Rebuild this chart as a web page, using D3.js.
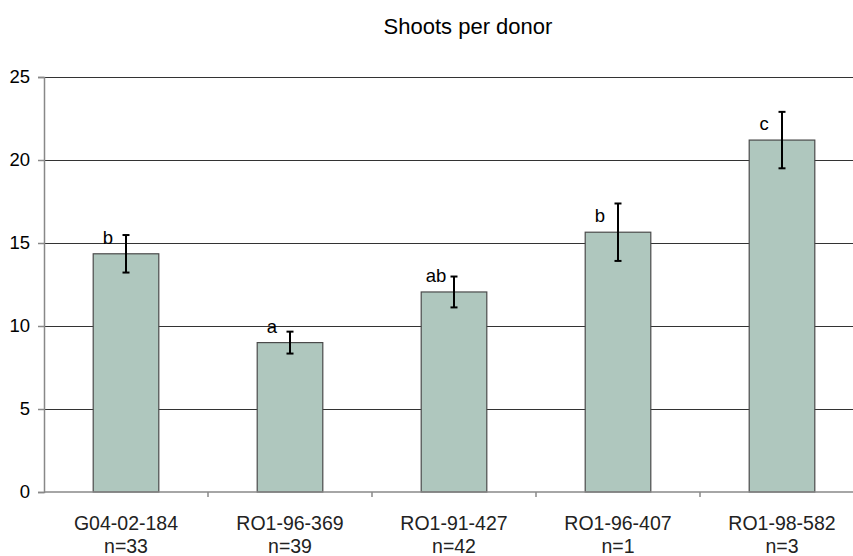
<!DOCTYPE html>
<html>
<head>
<meta charset="utf-8">
<script src="https://cdn.jsdelivr.net/npm/d3@7/dist/d3.min.js"></script>
<style>
  html, body { margin: 0; padding: 0; background: #fff; }
  svg { display: block; font-family: "Liberation Sans", Arial, sans-serif; }
</style>
</head>
<body>
<svg id="chart" width="853" height="556"></svg>
<script>
// Shoots per donor: mean with standard error and significance letters
const donors = ["G04-02-184", "RO1-96-369", "RO1-91-427", "RO1-96-407", "RO1-98-582"];
const sampleSizes = ["n=33", "n=39", "n=42", "n=1", "n=3"];
const meanShoots = [14.35, 9.0, 12.05, 15.65, 21.2];
const stdErrors = [1.13, 0.66, 0.93, 1.73, 1.7];
const groupLetters = ["b", "a", "ab", "b", "c"];
const yTicks = [0, 5, 10, 15, 20, 25];

const svg = d3.select("#chart");
const margin = { left: 44, top: 77, bottom: 492, right: 864 };

const x = d3.scaleBand()
  .domain(donors)
  .range([margin.left, margin.right])
  .paddingInner(0.6)
  .paddingOuter(0.3);

const xCat = d3.scaleBand()
  .domain(donors)
  .range([margin.left, margin.right]);

const y = d3.scaleLinear()
  .domain([0, 25])
  .range([margin.bottom, margin.top]);

// title
svg.append("text")
  .attr("x", 468)
  .attr("y", 34)
  .attr("text-anchor", "middle")
  .attr("font-size", 22)
  .attr("fill", "#000")
  .text("Shoots per donor");

// horizontal gridlines
svg.append("g")
  .selectAll("line")
  .data(yTicks.filter(d => d > 0))
  .join("line")
  .attr("x1", margin.left)
  .attr("x2", margin.right)
  .attr("y1", d => Math.round(y(d)) + 0.5)
  .attr("y2", d => Math.round(y(d)) + 0.5)
  .attr("stroke", "#333")
  .attr("stroke-width", 1);

// y axis
const yAxis = svg.append("g")
  .attr("transform", `translate(${margin.left},0)`)
  .call(d3.axisLeft(y).tickValues(yTicks).tickSize(6).tickPadding(8).tickFormat(d3.format("d")));
yAxis.select(".domain").attr("stroke", "#888").attr("stroke-width", 1.5);
yAxis.selectAll(".tick line").attr("stroke", "#888").attr("stroke-width", 1.5);
yAxis.selectAll(".tick text")
  .attr("font-family", "Liberation Sans, Arial, sans-serif")
  .attr("font-size", 18.5)
  .attr("fill", "#000");

// bars
svg.append("g")
  .selectAll("rect")
  .data(donors)
  .join("rect")
  .attr("x", d => x(d))
  .attr("y", (d, i) => y(meanShoots[i]))
  .attr("width", x.bandwidth())
  .attr("height", (d, i) => y(0) - y(meanShoots[i]))
  .attr("fill", "#AFC7BE")
  .attr("stroke", "#4a4a4a")
  .attr("stroke-width", 1.2);

// x axis with category boundary ticks
const xAxisG = svg.append("g");
xAxisG.append("line")
  .attr("x1", margin.left)
  .attr("x2", margin.right)
  .attr("y1", margin.bottom)
  .attr("y2", margin.bottom)
  .attr("stroke", "#888")
  .attr("stroke-width", 1.5);
xAxisG.selectAll("line.cat")
  .data(donors.slice(1))
  .join("line")
  .attr("class", "cat")
  .attr("x1", d => xCat(d))
  .attr("x2", d => xCat(d))
  .attr("y1", margin.bottom)
  .attr("y2", margin.bottom + 5)
  .attr("stroke", "#888")
  .attr("stroke-width", 1.5);

// category labels
const labels = svg.append("g")
  .selectAll("text")
  .data(donors)
  .join("text")
  .attr("text-anchor", "middle")
  .attr("font-size", 19.5)
  .attr("fill", "#222");
labels.append("tspan")
  .attr("x", d => x(d) + x.bandwidth() / 2)
  .attr("y", 530)
  .text(d => d);
labels.append("tspan")
  .attr("x", d => x(d) + x.bandwidth() / 2)
  .attr("y", 553)
  .text((d, i) => sampleSizes[i]);

// error bars
const err = svg.append("g").attr("stroke", "#000").attr("stroke-width", 2);
donors.forEach((d, i) => {
  const cx = x(d) + x.bandwidth() / 2;
  const hi = y(meanShoots[i] + stdErrors[i]);
  const lo = y(meanShoots[i] - stdErrors[i]);
  err.append("line").attr("x1", cx).attr("x2", cx).attr("y1", hi).attr("y2", lo);
  err.append("line").attr("x1", cx - 3.5).attr("x2", cx + 3.5).attr("y1", hi).attr("y2", hi);
  err.append("line").attr("x1", cx - 3.5).attr("x2", cx + 3.5).attr("y1", lo).attr("y2", lo);
});

// significance letters
svg.append("g")
  .selectAll("text")
  .data(donors)
  .join("text")
  .attr("x", d => x(d) + x.bandwidth() / 2 - 18)
  .attr("y", (d, i) => y(meanShoots[i]) - 10)
  .attr("text-anchor", "middle")
  .attr("font-size", 18.5)
  .attr("fill", "#000")
  .text((d, i) => groupLetters[i]);
</script>
</body>
</html>
